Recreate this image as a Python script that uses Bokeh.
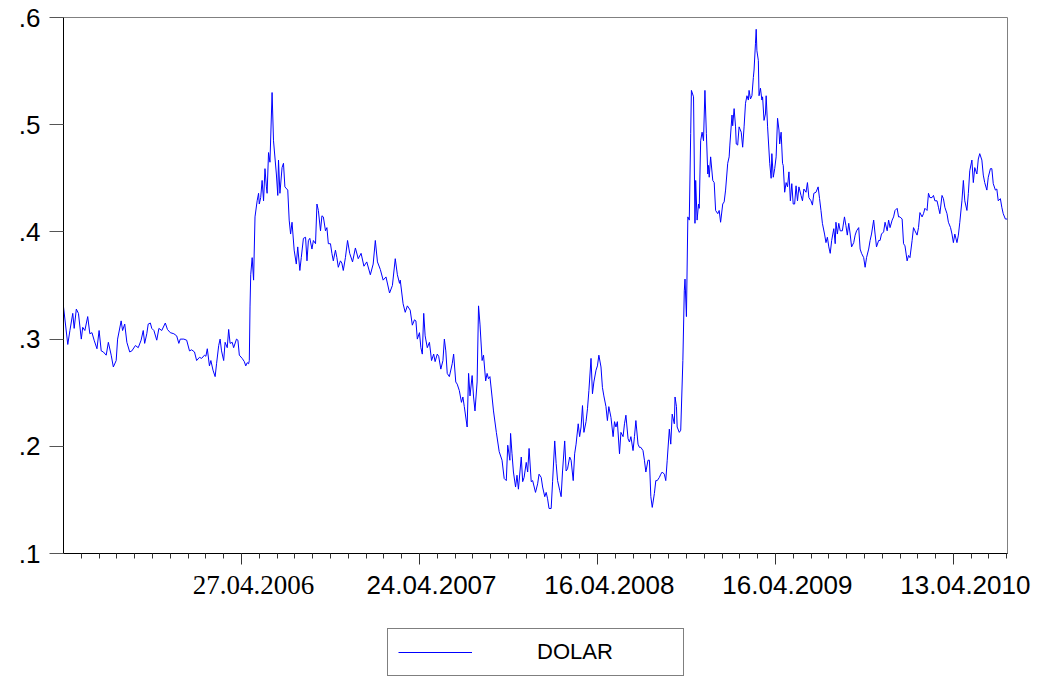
from bokeh.plotting import figure
from bokeh.layouts import column
from bokeh.models import Range1d, FixedTicker, Legend, LegendItem, ColumnDataSource
from bokeh.embed import file_html
from bokeh.resources import INLINE

# Daily USD series, indexed by observation number (business days)
obs = [
    0, 6, 9, 13, 15, 18, 21, 25, 27, 30, 34, 37, 40, 43, 47, 50, 53, 56, 60, 63,
    67, 70, 74, 76, 81, 83, 86, 89, 93, 96, 101, 105, 109, 112, 114, 117, 119, 122, 124, 127,
    131, 134, 138, 143, 146, 150, 155, 159, 162, 164, 169, 173, 177, 180, 184, 187, 191, 194, 198, 200,
    202, 205, 207, 210, 213, 215, 218, 220, 222, 225, 227, 230, 232, 234, 237, 239, 243, 245, 247, 251,
    254, 256, 258, 260, 261, 262, 263, 265, 267, 269, 272, 274, 275, 277, 279, 281, 283, 285, 286, 288,
    290, 293, 295, 299, 301, 302, 304, 307, 309, 311, 315, 317, 319, 321, 324, 327, 329, 332, 334, 337,
    340, 342, 344, 346, 349, 351, 354, 356, 358, 361, 363, 365, 368, 370, 372, 375, 377, 379, 382, 384,
    386, 389, 391, 393, 396, 399, 402, 406, 410, 414, 418, 422, 426, 431, 435, 438, 441, 445, 449, 453,
    458, 462, 466, 469, 472, 473, 477, 480, 483, 487, 490, 493, 495, 497, 500, 502, 504, 506, 508, 511,
    514, 517, 520, 522, 525, 527, 530, 533, 535, 537, 539, 542, 546, 548, 551, 553, 556, 559, 561, 563,
    567, 569, 571, 574, 576, 578, 581, 583, 585, 588, 590, 593, 595, 597, 599, 602, 604, 608, 610, 612,
    616, 619, 622, 624, 627, 628, 630, 632, 635, 637, 639, 643, 645, 647, 650, 652, 654, 657, 659, 663,
    666, 668, 671, 673, 676, 678, 680, 682, 685, 687, 690, 692, 694, 697, 699, 701, 704, 706, 708, 711,
    713, 716, 718, 720, 723, 725, 727, 729, 731, 734, 736, 738, 741, 743, 745, 748, 750, 752, 755, 757,
    759, 762, 764, 766, 769, 772, 774, 776, 778, 781, 783, 786, 788, 790, 793, 795, 797, 800, 802, 804,
    807, 809, 811, 814, 816, 818, 821, 823, 825, 827, 830, 832, 834, 837, 839, 841, 844, 846, 848, 851,
    853, 855, 858, 859, 861, 862, 865, 867, 870, 872, 873, 875, 877, 879, 881, 882, 885, 887, 888, 890,
    892, 893, 895, 897, 899, 901, 903, 905, 906, 907, 909, 912, 914, 916, 919, 921, 923, 926, 928, 930,
    933, 935, 936, 939, 940, 942, 944, 945, 947, 949, 952, 954, 956, 958, 960, 962, 963, 965, 967, 969,
    970, 972, 973, 974, 976, 977, 979, 981, 982, 984, 986, 987, 989, 992, 994, 995, 997, 999, 1001, 1003,
    1005, 1006, 1008, 1010, 1011, 1013, 1015, 1017, 1019, 1021, 1023, 1025, 1027, 1029, 1031, 1033, 1036, 1038, 1040, 1043,
    1045, 1047, 1050, 1052, 1054, 1057, 1060, 1062, 1064, 1066, 1069, 1071, 1073, 1075, 1077, 1079, 1082, 1084, 1085, 1087,
    1089, 1091, 1094, 1097, 1099, 1101, 1103, 1105, 1107, 1110, 1112, 1114, 1117, 1119, 1121, 1124, 1126, 1128, 1131, 1133,
    1135, 1138, 1140, 1142, 1145, 1147, 1149, 1152, 1154, 1157, 1159, 1161, 1164, 1166, 1168, 1171, 1173, 1175, 1178, 1180,
    1182, 1185, 1187, 1189, 1192, 1194, 1196, 1199, 1201, 1203, 1206, 1208, 1210, 1213, 1215, 1217, 1220, 1222, 1224, 1227,
    1229, 1231, 1234, 1236, 1238, 1241, 1243, 1246, 1248, 1250, 1252, 1255, 1257, 1259, 1262, 1264, 1266, 1269, 1271, 1273,
    1276, 1278, 1280, 1283, 1285, 1287, 1290, 1292, 1294, 1297, 1299, 1302, 1304, 1306, 1309, 1311, 1313, 1316, 1318, 1320,
    1323, 1326,
]
dolar = [
    0.330, 0.295, 0.308, 0.324, 0.310, 0.328, 0.324, 0.300, 0.311, 0.308, 0.321, 0.305, 0.306, 0.299, 0.291, 0.308, 0.289, 0.288, 0.285, 0.297,
    0.285, 0.274, 0.280, 0.300, 0.317, 0.308, 0.314, 0.297, 0.288, 0.289, 0.294, 0.292, 0.299, 0.308, 0.296, 0.305, 0.314, 0.315, 0.310, 0.308,
    0.299, 0.310, 0.308, 0.315, 0.309, 0.306, 0.305, 0.303, 0.296, 0.300, 0.300, 0.299, 0.289, 0.290, 0.288, 0.280, 0.283, 0.282, 0.285, 0.284,
    0.291, 0.275, 0.280, 0.271, 0.265, 0.277, 0.294, 0.300, 0.289, 0.280, 0.297, 0.292, 0.309, 0.296, 0.297, 0.292, 0.300, 0.299, 0.285, 0.282,
    0.279, 0.275, 0.278, 0.277, 0.280, 0.330, 0.360, 0.376, 0.355, 0.414, 0.429, 0.436, 0.426, 0.432, 0.448, 0.429, 0.459, 0.442, 0.436, 0.474,
    0.465, 0.530, 0.485, 0.454, 0.434, 0.467, 0.436, 0.460, 0.464, 0.442, 0.439, 0.411, 0.398, 0.409, 0.383, 0.370, 0.386, 0.364, 0.376, 0.394,
    0.395, 0.373, 0.392, 0.394, 0.384, 0.392, 0.389, 0.426, 0.420, 0.401, 0.415, 0.414, 0.401, 0.404, 0.389, 0.389, 0.380, 0.373, 0.383, 0.376,
    0.367, 0.373, 0.371, 0.364, 0.376, 0.392, 0.380, 0.372, 0.385, 0.375, 0.380, 0.368, 0.372, 0.360, 0.370, 0.392, 0.372, 0.365, 0.355, 0.358,
    0.343, 0.350, 0.375, 0.360, 0.352, 0.355, 0.333, 0.325, 0.331, 0.327, 0.313, 0.318, 0.317, 0.300, 0.306, 0.292, 0.286, 0.324, 0.303, 0.292,
    0.297, 0.280, 0.286, 0.279, 0.286, 0.284, 0.272, 0.280, 0.300, 0.289, 0.268, 0.265, 0.277, 0.286, 0.260, 0.258, 0.252, 0.241, 0.246, 0.237,
    0.218, 0.268, 0.247, 0.266, 0.246, 0.233, 0.260, 0.331, 0.314, 0.280, 0.285, 0.261, 0.268, 0.263, 0.265, 0.246, 0.233, 0.213, 0.204, 0.195,
    0.187, 0.170, 0.168, 0.201, 0.187, 0.212, 0.193, 0.176, 0.162, 0.173, 0.160, 0.190, 0.167, 0.171, 0.185, 0.176, 0.198, 0.167, 0.168, 0.157,
    0.165, 0.174, 0.171, 0.162, 0.153, 0.157, 0.151, 0.142, 0.142, 0.167, 0.205, 0.184, 0.168, 0.159, 0.153, 0.177, 0.205, 0.177, 0.179, 0.190,
    0.187, 0.168, 0.193, 0.202, 0.221, 0.209, 0.218, 0.238, 0.213, 0.223, 0.235, 0.252, 0.282, 0.249, 0.260, 0.271, 0.275, 0.285, 0.274, 0.255,
    0.247, 0.237, 0.224, 0.237, 0.227, 0.209, 0.223, 0.218, 0.223, 0.193, 0.213, 0.209, 0.221, 0.229, 0.207, 0.204, 0.209, 0.196, 0.209, 0.224,
    0.202, 0.199, 0.199, 0.196, 0.187, 0.176, 0.187, 0.187, 0.153, 0.143, 0.156, 0.168, 0.168, 0.171, 0.174, 0.176, 0.174, 0.168, 0.187, 0.216,
    0.202, 0.230, 0.221, 0.246, 0.237, 0.218, 0.213, 0.215, 0.280, 0.345, 0.356, 0.321, 0.414, 0.411, 0.492, 0.532, 0.526, 0.408, 0.448, 0.411,
    0.426, 0.422, 0.485, 0.493, 0.485, 0.532, 0.492, 0.454, 0.462, 0.451, 0.470, 0.448, 0.446, 0.420, 0.417, 0.420, 0.409, 0.426, 0.428, 0.439,
    0.464, 0.470, 0.481, 0.509, 0.499, 0.515, 0.498, 0.482, 0.481, 0.498, 0.493, 0.479, 0.498, 0.520, 0.527, 0.523, 0.532, 0.524, 0.527, 0.544,
    0.551, 0.576, 0.589, 0.569, 0.560, 0.527, 0.534, 0.523, 0.526, 0.504, 0.510, 0.527, 0.498, 0.464, 0.450, 0.473, 0.451, 0.459, 0.470, 0.506,
    0.495, 0.482, 0.493, 0.464, 0.462, 0.437, 0.446, 0.442, 0.456, 0.429, 0.445, 0.426, 0.426, 0.443, 0.429, 0.442, 0.434, 0.429, 0.440, 0.437,
    0.446, 0.432, 0.429, 0.425, 0.436, 0.437, 0.442, 0.431, 0.420, 0.408, 0.398, 0.390, 0.395, 0.386, 0.380, 0.392, 0.403, 0.389, 0.409, 0.398,
    0.408, 0.401, 0.401, 0.414, 0.406, 0.397, 0.408, 0.398, 0.386, 0.390, 0.397, 0.401, 0.404, 0.384, 0.380, 0.376, 0.367, 0.376, 0.384, 0.392,
    0.398, 0.411, 0.398, 0.386, 0.392, 0.392, 0.398, 0.400, 0.409, 0.401, 0.411, 0.404, 0.411, 0.414, 0.420, 0.422, 0.414, 0.414, 0.412, 0.389,
    0.387, 0.373, 0.378, 0.376, 0.392, 0.404, 0.401, 0.397, 0.404, 0.418, 0.414, 0.417, 0.422, 0.420, 0.436, 0.432, 0.432, 0.434, 0.429, 0.429,
    0.423, 0.417, 0.434, 0.431, 0.423, 0.417, 0.409, 0.404, 0.398, 0.390, 0.398, 0.390, 0.397, 0.409, 0.429, 0.448, 0.429, 0.420, 0.436, 0.457,
    0.467, 0.446, 0.460, 0.454, 0.468, 0.473, 0.467, 0.453, 0.446, 0.439, 0.451, 0.459, 0.459, 0.445, 0.439, 0.440, 0.429, 0.431, 0.423, 0.417,
    0.412, 0.412,
]

date_ticks = [250, 500, 750, 1000, 1250]
date_labels = ["27.04.2006", "24.04.2007", "16.04.2008", "16.04.2009", "13.04.2010"]
month_ticks = list(range(25, 1326, 25))
value_ticks = [0.1, 0.2, 0.3, 0.4, 0.5, 0.6]
value_labels = [".1", ".2", ".3", ".4", ".5", ".6"]

W = 1049
LEFT, RIGHT, TOP = 63, 42, 17
FRAME_H = 536
MAIN_BOTTOM = 15
MAIN_H = TOP + FRAME_H + MAIN_BOTTOM
FOOT_H = 678 - MAIN_H
LABEL_RISE = 94      # date-label anchor, px above the page bottom
LEGEND_LIFT = 2      # legend box bottom, px above the page bottom

x_start, x_end = obs[0], obs[-1]

p = figure(
    width=W, height=MAIN_H,
    output_backend="svg", toolbar_location=None,
    x_range=Range1d(x_start, x_end), y_range=Range1d(0.1, 0.6),
    min_border_left=LEFT, min_border_right=RIGHT, min_border_top=TOP, min_border_bottom=MAIN_BOTTOM,
    background_fill_color="white", border_fill_color="white",
)
p.frame_align = False
p.grid.visible = False
p.outline_line_color = "#808080"
p.outline_line_width = 1

p.line(obs, dolar, line_color="#0000ff", line_width=1)

# vertical axis
ya = p.yaxis[0]
ya.ticker = FixedTicker(ticks=value_ticks, minor_ticks=[])
ya.major_label_overrides = dict(zip(value_ticks, value_labels))
ya.axis_line_color = "black"
ya.major_tick_line_color = "#555555"
ya.major_tick_out = 14
ya.major_tick_in = 0
ya.minor_tick_out = 0
ya.major_label_standoff = 9
ya.major_label_text_font = "Liberation Sans"
ya.major_label_text_font_size = "26px"
ya.major_label_text_color = "black"

# horizontal axis: monthly minor ticks, yearly major ticks; labels drawn in the footer
xa = p.xaxis[0]
xa.ticker = FixedTicker(ticks=date_ticks, minor_ticks=month_ticks)
xa.major_label_overrides = {t: "" for t in date_ticks}
xa.major_label_text_font_size = "1px"
xa.major_label_standoff = 0
xa.axis_line_color = "black"
xa.major_tick_line_color = "#333333"
xa.minor_tick_line_color = "#333333"
xa.major_tick_out = 11
xa.major_tick_in = 0
xa.minor_tick_out = 5
xa.minor_tick_in = 0

# footer: date labels on the same horizontal scale, plus the legend box
px_per_obs = (W - LEFT - RIGHT) / (x_end - x_start)
foot = figure(
    width=W, height=FOOT_H,
    output_backend="svg", toolbar_location=None,
    x_range=Range1d(x_start - LEFT / px_per_obs, x_end + RIGHT / px_per_obs),
    y_range=Range1d(0, FOOT_H),
    x_axis_type=None, y_axis_type=None,
    min_border=0, min_border_left=0, min_border_right=0, min_border_top=0, min_border_bottom=0,
    background_fill_color="white", border_fill_color="white",
)
foot.frame_align = False
foot.grid.visible = False
foot.outline_line_color = None

label_src = ColumnDataSource(dict(
    x=date_ticks,
    y=[LABEL_RISE] * len(date_ticks),
    text=date_labels,
    font=["Liberation Serif"] + ["Liberation Sans"] * (len(date_labels) - 1),
    size=["27px"] + ["26px"] * (len(date_labels) - 1),
))
foot.text(x="x", y="y", text="text", source=label_src, x_offset=12,
          text_font="font", text_font_size="size", text_align="center",
          text_baseline="alphabetic", text_color="black")

# legend key: the same series, hidden in the footer, only used for its swatch
key = foot.line(obs, dolar, line_color="#0000ff", line_width=1, visible=False)
legend = Legend(
    items=[LegendItem(label="DOLAR", renderers=[key])],
    location=(387, LEGEND_LIFT),
    orientation="horizontal",
    padding=10, margin=0, spacing=0,
    glyph_width=74, glyph_height=20,
    label_standoff=65, label_width=136, label_height=20,
    label_text_font="Liberation Sans", label_text_font_size="22px",
    label_text_color="black",
    border_line_color="black", border_line_width=1,
    background_fill_color="white", background_fill_alpha=1,
    inactive_fill_alpha=0,
)
foot.add_layout(legend)

layout = column(p, foot, spacing=0)
open("out.html", "w").write(file_html(layout, INLINE))
